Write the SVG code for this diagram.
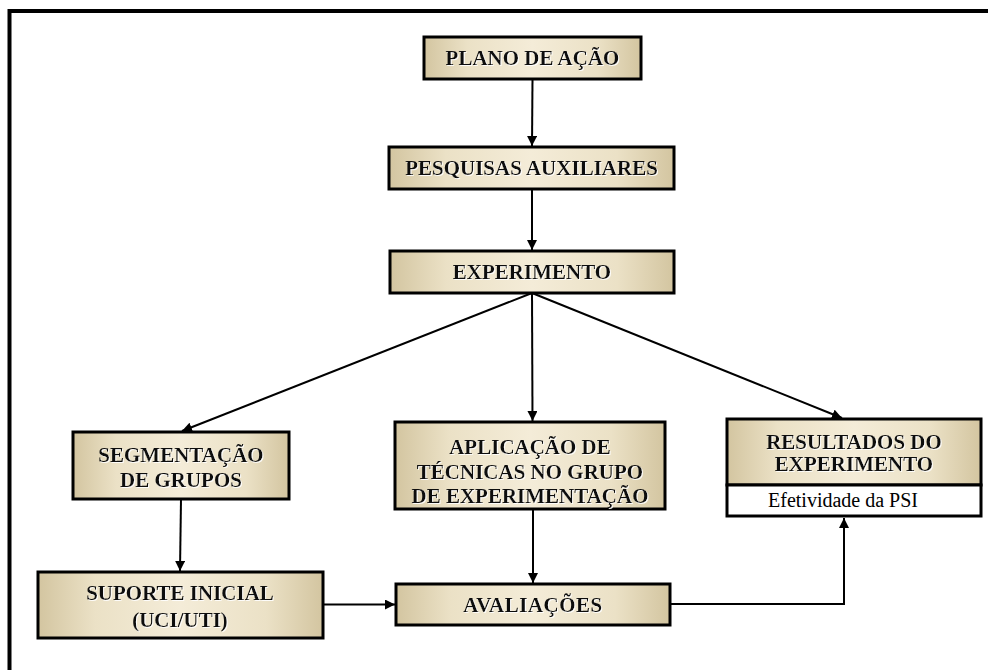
<svg xmlns="http://www.w3.org/2000/svg" width="988" height="670" viewBox="0 0 988 670">
<defs>
<linearGradient id="bg" x1="0" y1="0" x2="1" y2="0">
<stop offset="0" stop-color="#d3c5a0"/>
<stop offset="0.2" stop-color="#ebe1c6"/>
<stop offset="0.5" stop-color="#f4ecd8"/>
<stop offset="0.8" stop-color="#ebe1c6"/>
<stop offset="1" stop-color="#d3c5a0"/>
</linearGradient>
<filter id="sh" x="-5%" y="-20%" width="110%" height="140%">
<feDropShadow dx="1" dy="1" stdDeviation="0.3" flood-color="#ffffff" flood-opacity="0.9"/>
</filter>
<marker id="ah" viewBox="0 0 10 10" refX="10" refY="5" markerWidth="10" markerHeight="10" markerUnits="userSpaceOnUse" orient="auto">
<path d="M0,0 L10,5 L0,10 z" fill="#000"/>
</marker>
</defs>
<style>
.box{fill:url(#bg);stroke:#000;stroke-width:3}
.wbox{fill:#fff;stroke:#000;stroke-width:3}
.t{font-family:"Liberation Serif","Times New Roman",serif;font-weight:bold;font-size:21px;fill:#111;text-anchor:middle;filter:url(#sh)}
.n{font-family:"Liberation Serif","Times New Roman",serif;font-size:20px;fill:#000;text-anchor:middle}
.c{fill:none;stroke:#000;stroke-width:2}
.a{marker-end:url(#ah)}
</style>
<rect width="988" height="670" fill="#fff"/>
<path d="M9.5,670 V11 H988" fill="none" stroke="#000" stroke-width="4"/>

<g id="connectors">
<line class="c a" x1="532.5" y1="79" x2="532" y2="146"/>
<line class="c a" x1="532" y1="189" x2="532" y2="250"/>
<line class="c a" x1="532" y1="293" x2="182" y2="431"/>
<line class="c a" x1="532" y1="293" x2="532.5" y2="421"/>
<line class="c a" x1="532" y1="293" x2="842" y2="418"/>
<line class="c a" x1="181" y1="499" x2="180" y2="571"/>
<line class="c a" x1="533" y1="509" x2="533" y2="583"/>
<polyline class="c a" points="322,604.5 395,604.5"/>
<polyline class="c a" points="670,604 844,604 844,518"/>
</g>

<g id="plano">
<rect class="box" x="424" y="37" width="217" height="42"/>
<text class="t" x="532.5" y="65">PLANO DE AÇÃO</text>
</g>
<g id="pesquisas">
<rect class="box" x="389" y="147" width="285" height="42"/>
<text class="t" x="531.5" y="175">PESQUISAS AUXILIARES</text>
</g>
<g id="experimento">
<rect class="box" x="390" y="251" width="284" height="42"/>
<text class="t" x="532" y="279">EXPERIMENTO</text>
</g>
<g id="segmentacao">
<rect class="box" x="73" y="432" width="216" height="67"/>
<text class="t" x="181" y="462">SEGMENTAÇÃO</text>
<text class="t" x="181" y="487">DE GRUPOS</text>
</g>
<g id="aplicacao">
<rect class="box" x="395" y="422" width="270" height="87"/>
<text class="t" x="530" y="454">APLICAÇÃO DE</text>
<text class="t" x="530" y="479">TÉCNICAS NO GRUPO</text>
<text class="t" x="530" y="503">DE EXPERIMENTAÇÃO</text>
</g>
<g id="resultados">
<rect class="box" x="727" y="419" width="254" height="66"/>
<rect class="wbox" x="727" y="485" width="254" height="31"/>
<text class="t" x="854" y="449">RESULTADOS DO</text>
<text class="t" x="854" y="471">EXPERIMENTO</text>
<text class="n" x="843" y="507">Efetividade da PSI</text>
</g>
<g id="suporte">
<rect class="box" x="38" y="572" width="285" height="66"/>
<text class="t" x="180" y="600">SUPORTE INICIAL</text>
<text class="t" x="180" y="627">(UCI/UTI)</text>
</g>
<g id="avaliacoes">
<rect class="box" x="396" y="584" width="274" height="41"/>
<text class="t" x="533" y="612" letter-spacing="0.5">AVALIAÇÕES</text>
</g>
</svg>
